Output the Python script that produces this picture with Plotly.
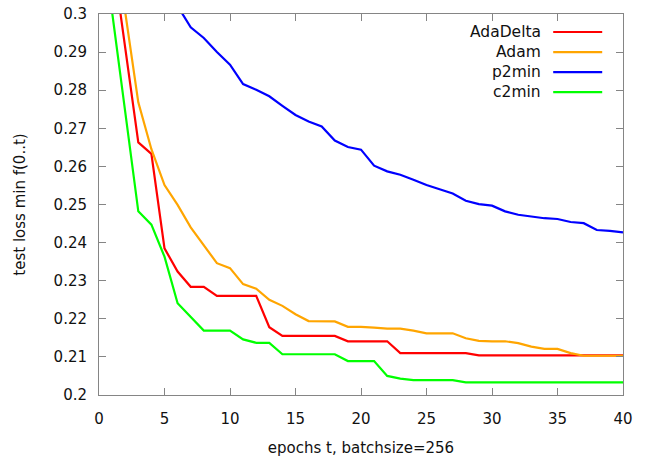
import plotly.graph_objects as go

epochs = list(range(1, 41))

adadelta = [0.316, 0.291, 0.2663, 0.2633, 0.2385, 0.2324, 0.2284, 0.2284, 0.2260, 0.2260,
            0.2260, 0.2260, 0.2178, 0.2155, 0.2155, 0.2155, 0.2155, 0.2155, 0.2141, 0.2141,
            0.2141, 0.2141, 0.2110, 0.2110, 0.2110, 0.2110, 0.2110, 0.2110, 0.2104, 0.2104,
            0.2104, 0.2104, 0.2104, 0.2104, 0.2104, 0.2104, 0.2104, 0.2104, 0.2104, 0.2104]

adam = [0.340, 0.3005, 0.2768, 0.2645, 0.2551, 0.2499, 0.2440, 0.2394, 0.2346, 0.2333,
        0.2291, 0.2279, 0.2250, 0.2234, 0.2212, 0.2194, 0.2193, 0.2193, 0.2179, 0.2179,
        0.2177, 0.2174, 0.2174, 0.2169, 0.2162, 0.2162, 0.2162, 0.2149, 0.2142, 0.2141,
        0.2141, 0.2136, 0.2127, 0.2121, 0.2121, 0.2110, 0.2103, 0.2103, 0.2103, 0.2103]

p2min = [0.380, 0.350, 0.330, 0.320, 0.310, 0.3021, 0.2965, 0.2937, 0.2900, 0.2867,
         0.2816, 0.2801, 0.2784, 0.2759, 0.2735, 0.2718, 0.2705, 0.2668, 0.2651, 0.2644,
         0.2602, 0.2587, 0.2578, 0.2565, 0.2551, 0.2540, 0.2529, 0.2510, 0.2501, 0.2497,
         0.2482, 0.2473, 0.2468, 0.2464, 0.2462, 0.2454, 0.2451, 0.2433, 0.2431, 0.2427]

c2min = [0.3005, 0.2743, 0.2482, 0.2447, 0.2363, 0.2241, 0.2204, 0.2169, 0.2169, 0.2169,
         0.2146, 0.2137, 0.2137, 0.2107, 0.2107, 0.2107, 0.2107, 0.2107, 0.2089, 0.2089,
         0.2089, 0.2050, 0.2043, 0.2039, 0.2039, 0.2039, 0.2039, 0.2033, 0.2033, 0.2033,
         0.2033, 0.2033, 0.2033, 0.2033, 0.2033, 0.2033, 0.2033, 0.2033, 0.2033, 0.2033]

series_names = ["AdaDelta", "Adam", "p2min", "c2min"]
series_values = [adadelta, adam, p2min, c2min]
series_colors = ["#ff0000", "#ffa500", "#0000ff", "#00ff00"]

x_tick_vals = [0, 5, 10, 15, 20, 25, 30, 35, 40]
y_tick_vals = [0.2, 0.21, 0.22, 0.23, 0.24, 0.25, 0.26, 0.27, 0.28, 0.29, 0.3]
y_tick_text = ["0.2", "0.21", "0.22", "0.23", "0.24", "0.25", "0.26", "0.27", "0.28", "0.29", "0.3"]

FONT = "DejaVu Sans"
AXIS_GRAY = "#858585"

fig = go.Figure()
for name, vals, col in zip(series_names, series_values, series_colors):
    fig.add_trace(go.Scatter(x=epochs, y=vals, mode="lines", name=name,
                             line=dict(color=col, width=2.2), showlegend=False))

W, H = 645, 457
ml, mr, mt, mb = 99.3, 21.7, 14.3, 62
pw, ph = W - ml - mr, H - mt - mb


def px_x(p):
    return (p - ml) / pw


def px_y(p):
    return (H - mb - p) / ph


# custom gnuplot-style legend (text on the left, sample line on the right)
rows = [32.3, 52.3, 72.3, 92.3]
for name, col, ry in zip(series_names, series_colors, rows):
    fig.add_annotation(x=px_x(543), y=px_y(ry), xref="paper", yref="paper",
                       text=name, showarrow=False, xanchor="right", yanchor="middle",
                       font=dict(family=FONT, size=15.5, color="#111"))
    fig.add_shape(type="line", xref="paper", yref="paper",
                  x0=px_x(553.5), x1=px_x(602.5), y0=px_y(ry), y1=px_y(ry),
                  line=dict(color=col, width=2.2))

axis_common = dict(showline=True, linecolor=AXIS_GRAY, linewidth=1, mirror="ticks",
                   ticks="inside", ticklen=7, tickcolor=AXIS_GRAY, tickwidth=1,
                   showgrid=False, zeroline=False, ticklabeloverflow="allow",
                   tickfont=dict(family=FONT, size=15, color="#111"))

fig.update_layout(
    width=W, height=H,
    margin=dict(l=ml, r=mr, t=mt, b=mb, autoexpand=False),
    paper_bgcolor="white", plot_bgcolor="white",
    font=dict(family=FONT, size=15, color="#111"),
    xaxis=dict(range=[0, 40], tickvals=x_tick_vals, ticklabelstandoff=10,
               title=dict(text="epochs t, batchsize=256", standoff=23,
                          font=dict(family=FONT, size=15, color="#111")),
               **axis_common),
    yaxis=dict(range=[0.2, 0.3], tickvals=y_tick_vals, ticktext=y_tick_text,
               ticklabelstandoff=8,
               title=dict(text="test loss min f(0..t)", standoff=24,
                          font=dict(family=FONT, size=15, color="#111")),
               **axis_common),
)

fig.write_html("out.html",
               config={"displayModeBar": False, "staticPlot": True},
               post_script="document.body.style.margin='0';document.body.style.overflow='hidden';")
